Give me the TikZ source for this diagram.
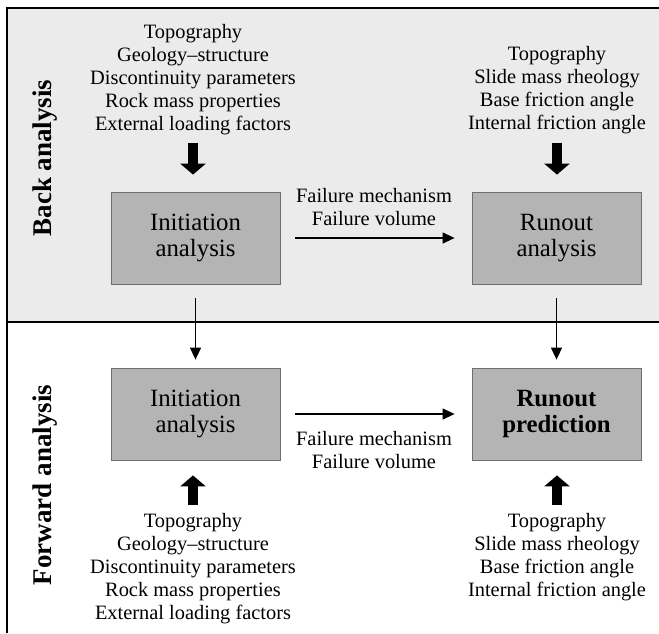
\documentclass[tikz,border=0pt]{standalone}
\usepackage{fontspec}
\setmainfont{Liberation Serif}
\usetikzlibrary{arrows.meta}
\definecolor{bgray}{HTML}{EBEBEB}
\definecolor{boxfill}{HTML}{B4B4B4}
\definecolor{boxline}{HTML}{6E6E6E}
\tikzset{
  procbox/.style={draw=boxline, line width=0.8pt, fill=boxfill, minimum width=169pt, minimum height=92pt, inner sep=0pt, align=center, font=\fontsize{24.8}{26}\selectfont},
  listtext/.style={align=center, inner sep=0pt, font=\fontsize{20.4}{23}\selectfont},
  sidelabel/.style={rotate=90, inner sep=0pt, font=\fontsize{27}{30}\selectfont\bfseries},
  thinarrow/.style={line width=1.3pt, -{Triangle[length=12pt,width=11pt]}},
  fatarrow/.style={line width=10pt, -{Triangle[length=11pt,width=25pt]}},
  frameline/.style={line width=1.2pt}
}
\begin{document}
\begin{tikzpicture}[x=1pt,y=-1pt]
\useasboundingbox (0,0) rectangle (659,633);
\fill[bgray] (7,8) rectangle (659,322);
\draw[frameline] (659,8) -- (7,8) -- (7,633);
\draw[frameline] (7,322) -- (659,322);

\node[sidelabel] (back) at (45,158) {Back analysis};
\node[sidelabel] (fwd) at (45,485) {Forward analysis};

\node[procbox] (ia1) at (195.5,238) {Initiation\\analysis};
\node[procbox] (ra1) at (556.5,238) {Runout\\analysis};
\node[procbox] (ia2) at (195.5,414) {Initiation\\analysis};
\node[procbox, font=\fontsize{24.8}{26}\selectfont\bfseries] (rp2) at (556.5,414) {Runout\\prediction};

\node[listtext] (l1) at (193,80) {Topography\\Geology--structure\\Discontinuity parameters\\Rock mass properties\\External loading factors};
\node[listtext] (l2) at (557,90) {Topography\\Slide mass rheology\\Base friction angle\\Internal friction angle};
\node[listtext] (l3) at (193,569) {Topography\\Geology--structure\\Discontinuity parameters\\Rock mass properties\\External loading factors};
\node[listtext] (l4) at (557,557) {Topography\\Slide mass rheology\\Base friction angle\\Internal friction angle};

\node[listtext] (f1) at (374,207) {Failure mechanism\\Failure volume};
\node[listtext] (f2) at (374,450) {Failure mechanism\\Failure volume};

\draw[thinarrow, shorten <=15pt, shorten >=17pt] (ia1.east) -- (ra1.west);
\draw[thinarrow, shorten <=15pt, shorten >=17pt] (ia2.east) -- (rp2.west);
\draw[thinarrow, shorten <=14pt, shorten >=8pt] (ia1.south) -- (ia2.north);
\draw[thinarrow, shorten <=14pt, shorten >=8pt] (ra1.south) -- (rp2.north);

\draw[fatarrow] ([shift={(-2.5pt,49pt)}]ia1.north) -- ([shift={(-2.5pt,17pt)}]ia1.north);
\draw[fatarrow] ([shift={(0.5pt,49pt)}]ra1.north) -- ([shift={(0.5pt,17pt)}]ra1.north);
\draw[fatarrow] ([shift={(-2.5pt,-45pt)}]ia2.south) -- ([shift={(-2.5pt,-15pt)}]ia2.south);
\draw[fatarrow] ([shift={(0.5pt,-45pt)}]rp2.south) -- ([shift={(0.5pt,-15pt)}]rp2.south);
\end{tikzpicture}
\end{document}
